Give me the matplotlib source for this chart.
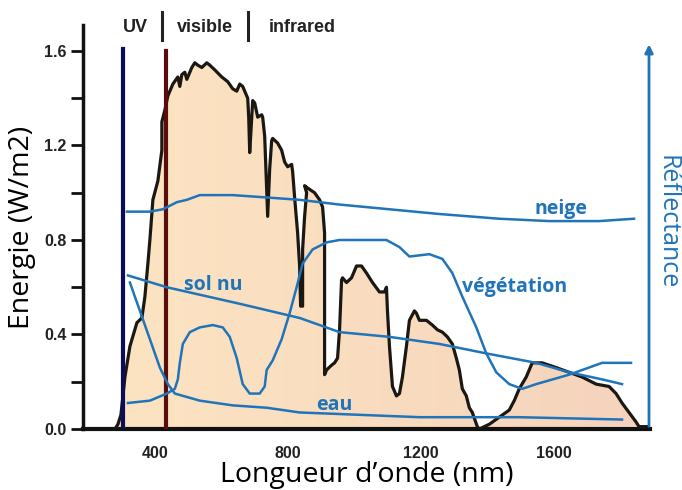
import numpy as np
import matplotlib.pyplot as plt
from matplotlib.patches import Polygon
from matplotlib.colors import LinearSegmentedColormap

# spectre solaire (nm, energie)
spec_nm = [280, 289, 298, 310, 325, 346, 361, 370, 379, 385, 394, 409, 421, 421, 430, 439,
           454, 469, 475, 481, 490, 496, 499, 511, 520, 529, 541, 556, 565, 580, 601, 619,
           634, 646, 655, 664, 679, 682, 685, 691, 694, 700, 709, 721, 724, 730, 739, 745,
           751, 754, 769, 781, 790, 799, 811, 814, 820, 829, 835, 838, 844, 844, 850, 856,
           850, 859, 880, 895, 904, 910, 910, 910, 916, 931, 940, 949, 955, 961, 964, 976,
           991, 1006, 1021, 1036, 1054, 1075, 1090, 1096, 1099, 1105, 1114, 1126, 1135, 1144,
           1156, 1165, 1180, 1186, 1195, 1216, 1234, 1249, 1264, 1279, 1294, 1306, 1315, 1324,
           1336, 1345, 1354, 1369, 1375, 1405, 1435, 1465, 1480, 1495, 1516, 1534, 1564, 1606,
           1645, 1684, 1726, 1765, 1786, 1804, 1825, 1846, 1855, 1885]
spec_e = [0.00, 0.02, 0.06, 0.22, 0.35, 0.45, 0.47, 0.56, 0.70, 0.80, 0.97, 1.05, 1.18, 1.30, 1.35, 1.41,
          1.46, 1.49, 1.45, 1.50, 1.51, 1.48, 1.49, 1.53, 1.55, 1.54, 1.53, 1.55, 1.54, 1.52, 1.49, 1.47,
          1.44, 1.43, 1.46, 1.45, 1.40, 1.32, 1.17, 1.32, 1.39, 1.38, 1.32, 1.33, 1.32, 1.24, 0.90, 1.10,
          1.22, 1.23, 1.21, 1.18, 1.13, 1.11, 1.12, 1.09, 0.98, 0.83, 0.69, 0.52, 0.52, 0.76, 0.90, 1.00,
          1.03, 1.02, 1.00, 0.97, 0.94, 0.83, 0.33, 0.23, 0.25, 0.27, 0.28, 0.30, 0.42, 0.63, 0.64, 0.62,
          0.64, 0.69, 0.69, 0.66, 0.62, 0.58, 0.58, 0.60, 0.50, 0.35, 0.18, 0.14, 0.15, 0.22,
          0.35, 0.46, 0.50, 0.49, 0.46, 0.46, 0.44, 0.42, 0.41, 0.39, 0.36, 0.30, 0.25, 0.17,
          0.14, 0.09, 0.07, 0.01, 0.00, 0.02, 0.05, 0.08, 0.12, 0.17, 0.22, 0.28, 0.28, 0.26,
          0.24, 0.22, 0.19, 0.18, 0.15, 0.11, 0.07, 0.03, 0.01, 0.01]

# courbes de reflectance (tracees sur la meme echelle)
neige_nm = [316, 385, 424, 466, 496, 535, 634, 736, 835, 955, 1255, 1435, 1585, 1735, 1840]
neige_r = [0.92, 0.92, 0.93, 0.96, 0.97, 0.99, 0.99, 0.98, 0.97, 0.95, 0.91, 0.89, 0.88, 0.88, 0.89]

solnu_nm = [319, 436, 655, 835, 955, 1105, 1255, 1396, 1546, 1645, 1744, 1804]
solnu_r = [0.65, 0.60, 0.53, 0.47, 0.41, 0.39, 0.36, 0.32, 0.28, 0.24, 0.21, 0.19]

eau_nm = [325, 355, 385, 415, 439, 460, 535, 634, 736, 835, 1195, 1495, 1804]
eau_r = [0.62, 0.50, 0.38, 0.26, 0.19, 0.15, 0.12, 0.10, 0.09, 0.07, 0.05, 0.05, 0.04]

veg_nm = [319, 385, 436, 460, 469, 475, 484, 505, 535, 574, 604, 625, 646, 664, 685, 715,
          730, 736, 754, 781, 805, 826, 844, 874, 916, 955, 1096, 1135, 1165, 1225, 1264, 1294,
          1324, 1366, 1396, 1426, 1465, 1504, 1546, 1645, 1744, 1774, 1804, 1831]
veg_r = [0.11, 0.12, 0.15, 0.17, 0.21, 0.28, 0.36, 0.41, 0.43, 0.44, 0.43, 0.39, 0.30, 0.19, 0.15, 0.15,
         0.18, 0.25, 0.29, 0.38, 0.49, 0.60, 0.70, 0.76, 0.79, 0.80, 0.80, 0.77, 0.73, 0.74, 0.72, 0.66,
         0.56, 0.43, 0.32, 0.24, 0.19, 0.17, 0.19, 0.23, 0.28, 0.28, 0.28, 0.28]

uv_line = 305
vis_line = 432

bleu = '#1f74ba'

fig = plt.figure(figsize=(6.82, 4.90), dpi=100)
ax = fig.add_axes([83 / 682, 61 / 490, 567 / 682, 404 / 490])
ax.set_xlim(184, 1888)
ax.set_ylim(0, 1.71)

# remplissage degrade sous le spectre
poly = Polygon(list(zip(spec_nm, spec_e)), closed=True, facecolor='none', edgecolor='none')
ax.add_patch(poly)
cmap = LinearSegmentedColormap.from_list('peche', ['#fce4c2', '#f9dcbf', '#f5d2bd'])
grad = np.linspace(0, 1, 256).reshape(1, -1)
im = ax.imshow(grad, cmap=cmap, aspect='auto', extent=(280, 1885, 0, 1.6), zorder=1)
im.set_clip_path(poly)
ax.plot(spec_nm, spec_e, color='#1b1712', lw=2.3, zorder=3, solid_joinstyle='round')

# lignes UV / visible
ax.plot([uv_line, uv_line], [0, 1.61], color='#0c0c5a', lw=3, zorder=4)
ax.plot([vis_line, vis_line], [0, 1.60], color='#5a0d0d', lw=3, zorder=4)

# reflectances
for xs, ys in [(neige_nm, neige_r), (solnu_nm, solnu_r), (eau_nm, eau_r), (veg_nm, veg_r)]:
    ax.plot(xs, ys, color=bleu, lw=1.8, zorder=5)

lab = dict(color=bleu, fontsize=14, fontweight='bold', family='Open Sans', ha='center', va='center', zorder=6)
ax.text(1621, 0.93, 'neige', **lab)
ax.text(574, 0.61, 'sol nu', **lab)
ax.text(1480, 0.60, 'végétation', **lab)
ax.text(940, 0.10, 'eau', **lab)

# bandeau du haut
top = dict(fontsize=13, fontweight='bold', family='Liberation Sans', ha='center', va='center', color='#222222')
ax.text(340, 1.70, 'UV', **top)
ax.text(550, 1.70, 'visible', **top)
ax.text(843, 1.70, 'infrared', **top)
ax.plot([421, 421], [1.645, 1.765], color='#222222', lw=2.2, clip_on=False)
ax.plot([679, 679], [1.645, 1.765], color='#222222', lw=2.2, clip_on=False)

# axe reflectance (fleche)
ax.annotate('', xy=(1885, 1.64), xytext=(1885, 0), xycoords='data',
            arrowprops=dict(arrowstyle='-|>', color=bleu, lw=2, mutation_scale=12), zorder=6)
fig.text(667 / 682, 1 - 222 / 490, 'Réflectance', rotation=-90, color=bleu, fontsize=18,
         family='Open Sans', ha='center', va='center')

# axes
for s in ['top', 'right']:
    ax.spines[s].set_visible(False)
ax.spines['left'].set_linewidth(2.5)
ax.spines['bottom'].set_linewidth(3)
ax.spines['left'].set_color('#111111')
ax.spines['bottom'].set_color('#111111')

ax.set_yticks([0.0, 0.4, 0.8, 1.2, 1.6])
ax.set_yticks([0.2, 0.6, 1.0, 1.4], minor=True)
ax.set_xticks([400, 800, 1200, 1600])
ax.set_yticklabels(['0.0', '0.4', '0.8', '1.2', '1.6'])
ax.tick_params(axis='y', which='both', length=9, width=2, direction='out', pad=3, color='#111111')
ax.tick_params(axis='x', length=0, pad=12)
for t in ax.get_xticklabels() + ax.get_yticklabels():
    t.set_fontweight('bold')
    t.set_fontsize(11.5)
    t.set_family('Liberation Sans')
    t.set_color('#222222')

ax.set_ylabel('Energie (W/m2)', fontsize=20.5, family='Open Sans', labelpad=6)
ax.set_xlabel('Longueur d’onde (nm)', fontsize=20.5, family='Open Sans', labelpad=0)

fig.savefig('out.png', dpi=100)
